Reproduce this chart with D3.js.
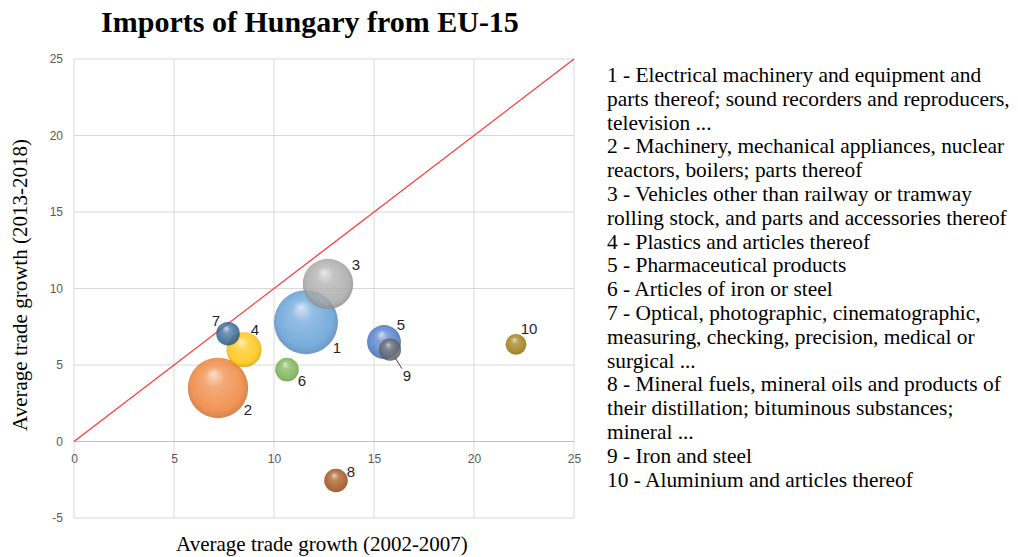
<!DOCTYPE html>
<html lang="en">
<head>
<meta charset="UTF-8">
<title>Imports of Hungary from EU-15</title>
<script src="https://d3js.org/d3.v7.min.js"></script>
<style>
  body { margin: 0; background: #fff; }
  svg { display: block; }
</style>
</head>
<body>
<div id="chart"></div>
<script>
// chapter numbers, growth rates and bubble sizes
const codes = ["1", "2", "3", "4", "5", "6", "7", "8", "9", "10"];
const growth0207 = [11.6, 7.2, 12.7, 8.5, 15.5, 10.65, 7.7, 13.1, 15.8, 22.1];
const growth1318 = [7.8, 3.5, 10.3, 6.0, 6.5, 4.7, 7.05, -2.55, 6.0, 6.35];
const bubbleSize = [100, 89, 62, 30, 28, 13.5, 13.5, 13.5, 12, 10.5];
const colors = ["#5b9bd5", "#ed7d31", "#a5a5a5", "#ffc000", "#4472c4",
                "#70ad47", "#255e91", "#9e480e", "#636363", "#997300"];
// label offset from bubble centre (px)
const labelDx = [31, 30, 28, 11, 17, 15, -12, 15, 17, 13];
const labelDy = [25, 22, -19, -20, -18, 11, -13, -9, 26, -16];

const xTicks = [0, 5, 10, 15, 20, 25];
const yTicks = [-5, 0, 5, 10, 15, 20, 25];

const legendLines = [
  "1 - Electrical machinery and equipment and",
  "parts thereof; sound recorders and reproducers,",
  "television ...",
  "2 - Machinery, mechanical appliances, nuclear",
  "reactors, boilers; parts thereof",
  "3 - Vehicles other than railway or tramway",
  "rolling stock, and parts and accessories thereof",
  "4 - Plastics and articles thereof",
  "5 - Pharmaceutical products",
  "6 - Articles of iron or steel",
  "7 - Optical, photographic, cinematographic,",
  "measuring, checking, precision, medical or",
  "surgical ...",
  "8 - Mineral fuels, mineral oils and products of",
  "their distillation; bituminous substances;",
  "mineral ...",
  "9 - Iron and steel",
  "10 - Aluminium and articles thereof"
];

const data = codes.map((c, i) => ({
  code: c, x: growth0207[i], y: growth1318[i], size: bubbleSize[i],
  color: colors[i], dx: labelDx[i], dy: labelDy[i]
}));

const W = 1018, H = 557;
const plot = { left: 74, right: 574, top: 59, bottom: 518 };

const svg = d3.select("#chart").append("svg")
  .attr("width", W).attr("height", H);

const x = d3.scaleLinear().domain([0, 25]).range([plot.left, plot.right]);
const y = d3.scaleLinear().domain([-5, 25]).range([plot.bottom, plot.top]);
const r = d3.scaleSqrt().domain([0, d3.max(bubbleSize)]).range([0, 32]);

// gradients for the 3D bubble look
const defs = svg.append("defs");
data.forEach((d, i) => {
  const g = defs.append("radialGradient")
    .attr("id", "grad" + i)
    .attr("cx", "50%").attr("cy", "50%").attr("r", "55%")
    .attr("fx", "42%").attr("fy", "26%");
  const c = d3.color(d.color);
  g.append("stop").attr("offset", "0%").attr("stop-color", d3.interpolateRgb(c, "#fff")(0.7));
  g.append("stop").attr("offset", "30%").attr("stop-color", d3.interpolateRgb(c, "#fff")(0.2));
  g.append("stop").attr("offset", "78%").attr("stop-color", c.formatHex());
  g.append("stop").attr("offset", "100%").attr("stop-color", c.darker(0.7).formatHex());
});

// grid
svg.append("g")
  .selectAll("line.v").data(xTicks).enter().append("line")
  .attr("x1", d => x(d)).attr("x2", d => x(d))
  .attr("y1", plot.top).attr("y2", plot.bottom)
  .attr("stroke", "#d9d9d9").attr("stroke-width", 1);
svg.append("g")
  .selectAll("line.h").data(yTicks).enter().append("line")
  .attr("x1", plot.left).attr("x2", plot.right)
  .attr("y1", d => y(d)).attr("y2", d => y(d))
  .attr("stroke", d => d === 0 ? "#bfbfbf" : "#d9d9d9").attr("stroke-width", 1);

// tick labels
const tickFont = "12px 'Liberation Sans', Arial, sans-serif";
svg.append("g")
  .attr("transform", `translate(0,${y(0)})`)
  .call(d3.axisBottom(x).tickValues(xTicks).tickFormat(d => String(d)).tickSize(0).tickPadding(13))
  .call(g => g.select(".domain").remove())
  .selectAll("text")
  .attr("fill", "#595959").style("font", tickFont);

svg.append("g")
  .attr("transform", `translate(${plot.left},0)`)
  .call(d3.axisLeft(y).tickValues(yTicks).tickFormat(d => String(d)).tickSize(0).tickPadding(11))
  .call(g => g.select(".domain").remove())
  .selectAll("text")
  .attr("fill", "#595959").style("font", tickFont);

// 45 degree reference line
svg.append("line")
  .attr("x1", x(0)).attr("y1", y(0))
  .attr("x2", x(25)).attr("y2", y(25))
  .attr("stroke", "#ff3b3b").attr("stroke-width", 1.3);

// bubbles, biggest first
const order = data.slice().sort((a, b) => b.size - a.size);
svg.append("g").selectAll("circle").data(order).enter().append("circle")
  .attr("cx", d => x(d.x)).attr("cy", d => y(d.y))
  .attr("r", d => r(d.size))
  .attr("fill", d => "url(#grad" + data.indexOf(d) + ")")
  .attr("fill-opacity", 0.82);

// leader line for label 9
const d9 = data[8];
svg.append("line")
  .attr("x1", x(d9.x) + 5).attr("y1", y(d9.y) + 8)
  .attr("x2", x(d9.x) + d9.dx - 5).attr("y2", y(d9.y) + d9.dy - 7)
  .attr("stroke", "#404040").attr("stroke-width", 1);

svg.append("g").selectAll("text").data(data).enter().append("text")
  .attr("x", d => x(d.x) + d.dx).attr("y", d => y(d.y) + d.dy)
  .attr("text-anchor", "middle").attr("dominant-baseline", "central")
  .attr("fill", "#1f1f2e")
  .style("font", "15px 'Liberation Sans', Arial, sans-serif")
  .text(d => d.code);

// titles
const serif = "'Liberation Serif', 'Times New Roman', serif";
svg.append("text")
  .attr("x", 310).attr("y", 32)
  .attr("text-anchor", "middle")
  .style("font", "bold 30px " + serif)
  .text("Imports of Hungary from EU-15");

svg.append("text")
  .attr("x", 322).attr("y", 551)
  .attr("text-anchor", "middle")
  .style("font", "21px " + serif)
  .text("Average trade growth (2002-2007)");

svg.append("text")
  .attr("transform", "rotate(-90)")
  .attr("x", -285).attr("y", 27)
  .attr("text-anchor", "middle")
  .style("font", "21px " + serif)
  .text("Average trade growth (2013-2018)");

// legend text
svg.append("g").selectAll("text").data(legendLines).enter().append("text")
  .attr("x", 607).attr("y", (d, i) => 82 + i * 23.8)
  .attr("fill", "#000")
  .style("font", "21.4px " + serif)
  .text(d => d);
</script>
</body>
</html>
